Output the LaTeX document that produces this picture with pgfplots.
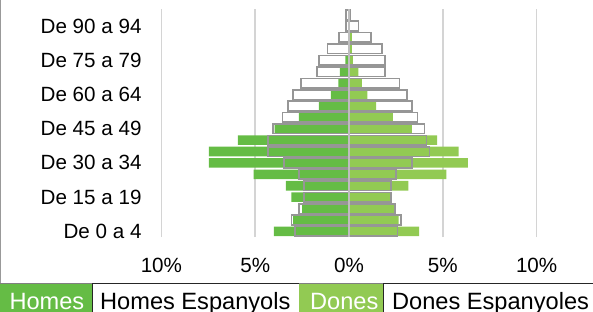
\documentclass[border=0pt]{standalone}
\usepackage{fontspec}
\setmainfont{Liberation Sans}
\usepackage{pgfplots}
\pgfplotsset{compat=1.18}
\usepackage{pgfplotstable}

\definecolor{homes}{RGB}{101,188,69}
\definecolor{dones}{RGB}{146,202,83}
\definecolor{espborder}{RGB}{150,150,150}
\definecolor{gridc}{RGB}{212,212,212}
\definecolor{zeroc}{RGB}{190,190,190}

% age group index, Homes (negative), Homes Espanyols (negative), Dones, Dones Espanyoles (in %)
\pgfplotstableread{
idx H HE D DE
0 -4.00 -2.87 3.74 2.58
1 -2.98 -3.07 2.64 2.78
2 -2.50 -2.67 2.40 2.46
3 -3.07 -2.39 2.28 2.23
4 -3.37 -2.39 3.17 2.23
5 -5.08 -2.67 5.19 2.51
6 -7.47 -3.46 6.33 3.35
7 -7.47 -4.31 5.84 4.29
8 -5.92 -4.31 4.69 4.12
9 -3.97 -4.05 3.35 4.03
10 -2.67 -3.55 2.34 3.65
11 -1.60 -3.24 1.44 3.35
12 -0.96 -2.98 0.98 3.08
13 -0.57 -2.57 0.68 2.69
14 -0.48 -1.71 0.50 1.93
15 -0.20 -1.60 0.20 1.93
16 -0.05 -1.14 0.15 1.75
17 -0.03 -0.53 0.15 1.18
18 0.00 -0.16 0.05 0.50
19 0.00 -0.15 0.00 0.08
}\pyr

\begin{document}
\begin{tikzpicture}
\useasboundingbox (0,0) rectangle (593pt,311pt);
\clip (0,0) rectangle (593pt,311pt);
\begin{axis}[
  at={(152pt,74pt)}, anchor=south west,
  scale only axis, width=394pt, height=228pt,
  xmin=-10.5, xmax=10.5, ymin=-0.5, ymax=19.5,
  xbar, bar width=9.6pt,
  xtick={-10,-5,0,5,10},
  xticklabels={10\%,5\%,0\%,5\%,10\%},
  ytick={0,3,6,9,12,15,18},
  yticklabels={De 0 a 4,De 15 a 19,De 30 a 34,De 45 a 49,De 60 a 64,De 75 a 79,De 90 a 94},
  xmajorgrids, ymajorgrids=false,
  major grid style={gridc, line width=1.5pt},
  axis line style={draw=none},
  major tick length=0pt,
  tick label style={font=\fontsize{20.6}{24}\selectfont},
  xticklabel style={anchor=base, inner sep=0pt, yshift=-35.5pt},
  yticklabel style={anchor=east, inner sep=0pt, xshift=-10.3pt},
  clip=false,
]
\addplot[xbar, bar shift=0pt, fill=homes, draw=none] table[x=H, y=idx] {\pyr};
\addplot[xbar, bar shift=0pt, fill=dones, draw=none] table[x=D, y=idx] {\pyr};
\addplot[xbar, bar shift=0pt, fill=none, draw=espborder, line width=1.6pt] table[x=HE, y=idx] {\pyr};
\addplot[xbar, bar shift=0pt, fill=none, draw=espborder, line width=1.6pt] table[x=DE, y=idx] {\pyr};
\draw[zeroc, line width=2pt] (axis cs:0,-0.5) -- (axis cs:0,19.5);
\end{axis}
% legend row (table-style boxes below the chart)
\fill[homes] (0pt,-10pt) rectangle (92pt,28pt);
\draw[black!85, line width=0.8pt, fill=white] (92pt,-10pt) rectangle (299pt,28pt);
\fill[dones] (299pt,-10pt) rectangle (383pt,28pt);
\draw[black!85, line width=0.8pt, fill=white] (383pt,-10pt) rectangle (610pt,28pt);
\draw[gray, line width=0.8pt] (0pt,28pt) -- (92pt,28pt);
\draw[gray, line width=0.8pt] (299pt,28pt) -- (383pt,28pt);
\draw[gray!80, line width=1pt] (0.5pt,28pt) -- (0.5pt,311pt);
\begin{scope}[every node/.style={anchor=base west, inner sep=0pt, font=\fontsize{23.6}{28}\selectfont}]
\node[text=white] at (9.3pt,2pt) {Homes};
\node[text=black] at (100pt,2pt) {Homes Espanyols};
\node[text=white] at (310pt,2pt) {Dones};
\node[text=black] at (392pt,2pt) {Dones Espanyoles};
\end{scope}
\end{tikzpicture}
\end{document}
